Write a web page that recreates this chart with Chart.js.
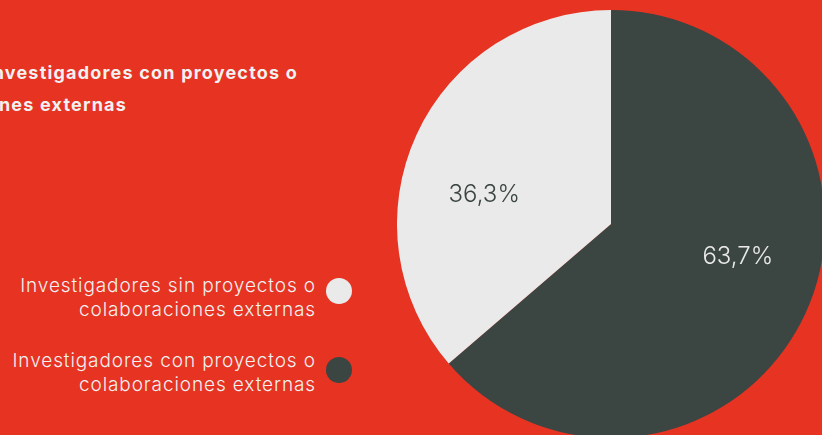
<!DOCTYPE html>
<html>
<head>
<meta charset="utf-8">
<script src="https://cdn.jsdelivr.net/npm/chart.js@4"></script>
<style>
  html, body { margin: 0; padding: 0; }
  body {
    width: 822px; height: 435px; overflow: hidden; position: relative;
    background: #e63322; font-family: Inter, "Noto Sans", sans-serif; color: #f1f1f1;
  }
  .title { position: absolute; font-weight: 700; font-size: 18px; letter-spacing: 1.2px; white-space: nowrap; text-align: right; }
  #legend { position: absolute; right: 470px; top: 274px; }
  .item { display: flex; align-items: flex-start; justify-content: flex-end; margin-bottom: 27px; }
  .item span { text-align: right; font-size: 19px; font-weight: 300; letter-spacing: 0.9px; line-height: 24px; }
  .dot { width: 26px; height: 26px; border-radius: 50%; margin-left: 10px; flex: none; }
  #wrap { position: absolute; left: 397px; top: 10px; width: 428px; height: 428px; }
</style>
</head>
<body>
<div class="title" style="right: 524px; top: 62px;">Investigadores con proyectos o</div>
<div class="title" style="right: 695px; top: 94px;">colaboraciones externas</div>
<div id="legend"></div>
<div id="wrap"><canvas id="chart"></canvas></div>
<script>
const labels = ['Investigadores con proyectos o colaboraciones externas', 'Investigadores sin proyectos o colaboraciones externas'];
const legendText = [['Investigadores con proyectos o', 'colaboraciones externas'], ['Investigadores sin proyectos o', 'colaboraciones externas']];
const values = [63.7, 36.3];
const colors = ['#3b4542', '#eaeaea'];
const labelColors = ['#eaeaea', '#3b4542'];

// legend: light one first, like the picture
const legend = document.getElementById('legend');
[1, 0].forEach(i => {
    const row = document.createElement('div');
    row.className = 'item';
    row.innerHTML = '<span>' + legendText[i].join('<br>') + '</span><div class="dot" style="background:' + colors[i] + (i === 0 ? ';margin-top:8px' : ';margin-top:4px') + '"></div>';
    legend.appendChild(row);
});

const sliceLabels = {
    id: 'sliceLabels',
    afterDatasetsDraw(chart) {
        const ctx = chart.ctx;
        chart.getDatasetMeta(0).data.forEach((arc, i) => {
            const a = (arc.startAngle + arc.endAngle) / 2 - 0.19;
            const r = arc.outerRadius * 0.61;
            ctx.save();
            ctx.fillStyle = labelColors[i];
            ctx.font = '300 24px Inter';
            ctx.textAlign = 'center';
            ctx.textBaseline = 'middle';
            ctx.fillText(values[i].toFixed(1).replace('.', ',') + '%', arc.x + Math.cos(a) * r, arc.y + Math.sin(a) * r + 2);
            ctx.restore();
        });
    }
};

new Chart(document.querySelector('#chart').getContext('2d'), {
    type: 'pie',
    data: {
        labels: labels,
        datasets: [{
            data: values,
            backgroundColor: colors,
            borderWidth: 0
        }]
    },
    options: {
        responsive: true,
        maintainAspectRatio: false,
        animation: false,
        layout: { padding: 0 },
        plugins: { legend: { display: false }, tooltip: { enabled: false } }
    },
    plugins: [sliceLabels]
});
</script>
</body>
</html>
